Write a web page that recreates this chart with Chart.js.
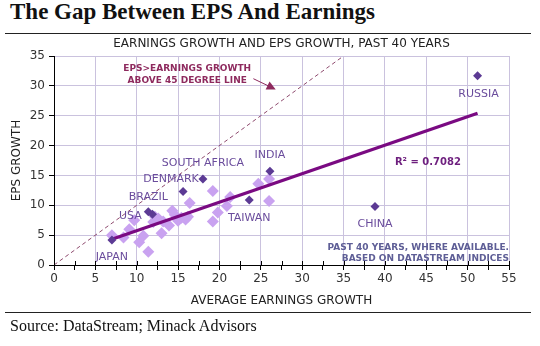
<!DOCTYPE html>
<html>
<head>
<meta charset="utf-8">
<script src="https://cdn.jsdelivr.net/npm/chart.js@4"></script>
<style>
  html, body { margin: 0; padding: 0; background: #fff; }
  #wrap { position: relative; width: 540px; height: 346px; overflow: hidden; }
  #title { position: absolute; left: 10px; top: -1px; font: bold 23px "Liberation Serif", serif; color: #111; white-space: nowrap; }
  .rule { position: absolute; left: 5px; width: 526px; height: 0; border-top: 1.5px solid #222; }
  #source { position: absolute; left: 10px; top: 317px; font: 16px "Liberation Serif", serif; color: #111; white-space: nowrap; }
  #chart { position: absolute; left: 0; top: 0; }
</style>
</head>
<body>
<div id="wrap">
  <div id="title">The Gap Between EPS And Earnings</div>
  <div class="rule" style="top:33px"></div>
  <canvas id="chart" width="540" height="346"></canvas>
  <div class="rule" style="top:312px"></div>
  <div id="source">Source: DataStream; Minack Advisors</div>
</div>
<script>
// markets without a label (average earnings growth vs EPS growth, %)
var otherEarn = [7.0, 8.4, 9.1, 9.7, 10.3, 10.8, 11.4, 12.0, 12.2, 12.6, 13.0, 13.2, 13.9, 14.3, 14.6, 15.0, 15.4, 15.9, 16.2, 16.4, 19.2, 19.2, 19.8, 20.9, 21.3, 24.7, 26.0, 26.0];
var otherEps  = [5.0, 4.6, 6.0, 7.5, 3.8, 4.9, 2.2, 7.2, 8.1, 7.8, 5.3, 7.3, 6.6, 9.1, 8.4, 7.4, 7.9, 7.6, 8.1, 10.4, 12.4, 7.3, 8.8, 9.9, 11.4, 13.6, 14.4, 10.7];

// labelled markets
var countries   = ['JAPAN', 'USA', 'BRAZIL', 'DENMARK', 'SOUTH AFRICA', 'INDIA', 'TAIWAN', 'CHINA', 'RUSSIA'];
var countryEarn = [7.0, 11.9, 11.4, 15.6, 18.0, 26.1, 23.6, 38.8, 51.2];
var countryEps  = [4.2, 8.5, 8.9, 12.3, 14.4, 15.7, 10.9, 9.8, 31.7];

// fitted trend line end points
var trendEarn = [7.0, 51.2];
var trendEps  = [4.3, 25.4];
var rSquared = '0.7082';

// 45 degree reference line
var diagEarn = [0, 35];
var diagEps  = [0, 35];

var xTicks = { min: 0, max: 55, step: 2.5 };
var yTicks = { min: 0, max: 35, step: 5 };

// label offsets from each country's marker, in pixels
var labelOffsets = [[0, 17], [-22, 2], [0, -15], [-12, -12], [0, -16], [0, -16], [0, 18], [0, 18], [1, 18]];

function pts(xs, ys) {
    return xs.map(function (x, i) { return { x: x, y: ys[i] }; });
}

var notesPlugin = {
    id: 'notes',
    afterDatasetsDraw: function (chart) {
        var ctx = chart.ctx;
        var xs = chart.scales.x, ys = chart.scales.y;
        ctx.save();
        ctx.textAlign = 'center';
        ctx.textBaseline = 'middle';

        // country labels
        ctx.fillStyle = '#6A4C9C';
        ctx.font = '11px "DejaVu Sans", sans-serif';
        countries.forEach(function (name, i) {
            var px = xs.getPixelForValue(countryEarn[i]) + labelOffsets[i][0];
            var py = ys.getPixelForValue(countryEps[i]) + labelOffsets[i][1];
            ctx.fillText(name, px, py);
        });

        // 45 degree callout
        ctx.fillStyle = '#8E2A5E';
        ctx.font = 'bold 9px "DejaVu Sans", sans-serif';
        ctx.fillText('EPS>EARNINGS GROWTH', xs.getPixelForValue(16.1), ys.getPixelForValue(32.8));
        ctx.fillText('ABOVE 45 DEGREE LINE', xs.getPixelForValue(16.1), ys.getPixelForValue(30.9));
        var ax0 = xs.getPixelForValue(24.1), ay0 = ys.getPixelForValue(31.2);
        var ax1 = xs.getPixelForValue(26.8), ay1 = ys.getPixelForValue(29.4);
        var ang = Math.atan2(ay1 - ay0, ax1 - ax0);
        ctx.strokeStyle = '#8E2A5E';
        ctx.lineWidth = 1;
        ctx.beginPath();
        ctx.moveTo(ax0, ay0);
        ctx.lineTo(ax1 - 6 * Math.cos(ang), ay1 - 6 * Math.sin(ang));
        ctx.stroke();
        ctx.beginPath();
        ctx.moveTo(ax1, ay1);
        ctx.lineTo(ax1 - 9 * Math.cos(ang) + 4.5 * Math.sin(ang), ay1 - 9 * Math.sin(ang) - 4.5 * Math.cos(ang));
        ctx.lineTo(ax1 - 9 * Math.cos(ang) - 4.5 * Math.sin(ang), ay1 - 9 * Math.sin(ang) + 4.5 * Math.cos(ang));
        ctx.closePath();
        ctx.fill();

        // fit statistic
        ctx.fillStyle = '#6E1F7E';
        ctx.font = 'bold 10px "DejaVu Sans", sans-serif';
        ctx.fillText('R\u00b2 = ' + rSquared, xs.getPixelForValue(45.2), ys.getPixelForValue(17.2));

        // coverage note
        ctx.fillStyle = '#5E5E96';
        ctx.font = 'bold 9px "DejaVu Sans", sans-serif';
        ctx.textAlign = 'right';
        ctx.fillText('PAST 40 YEARS, WHERE AVAILABLE.', xs.right, ys.getPixelForValue(2.9));
        ctx.fillText('BASED ON DATASTREAM INDICES', xs.right, ys.getPixelForValue(1.1));

        // x axis ticks cross the axis line
        ctx.strokeStyle = '#000';
        ctx.lineWidth = 1;
        ctx.beginPath();
        xs.ticks.forEach(function (t) {
            var px = Math.round(xs.getPixelForValue(t.value)) + 0.5;
            ctx.moveTo(px, ys.bottom - 4);
            ctx.lineTo(px, ys.bottom);
        });
        ctx.stroke();
        ctx.restore();
    }
};

new Chart(document.getElementById('chart'), {
    type: 'scatter',
    data: {
        datasets: [
            {
                label: 'Other markets',
                data: pts(otherEarn, otherEps),
                pointStyle: 'rectRot',
                pointRadius: 6,
                backgroundColor: '#C9A2F0',
                borderWidth: 0,
                order: 4
            },
            {
                type: 'line',
                label: '45 degree',
                data: pts(diagEarn, diagEps),
                borderColor: '#8E4A6E',
                borderWidth: 1,
                borderDash: [4, 3],
                pointRadius: 0,
                order: 3
            },
            {
                type: 'line',
                label: 'Trend',
                data: pts(trendEarn, trendEps),
                borderColor: '#7A0A82',
                borderWidth: 3.2,
                pointRadius: 0,
                order: 2
            },
            {
                label: 'Labelled markets',
                data: pts(countryEarn, countryEps),
                pointStyle: 'rectRot',
                pointRadius: 4.5,
                backgroundColor: '#5C3A94',
                borderWidth: 0,
                order: 1
            }
        ]
    },
    options: {
        responsive: false,
        animation: false,
        layout: { padding: { top: 56, right: 31, bottom: 34, left: 0 } },
        plugins: {
            legend: { display: false },
            tooltip: { enabled: false },
            title: { display: false },
            subtitle: { display: false }
        },
        scales: {
            x: {
                type: 'linear',
                min: xTicks.min,
                max: xTicks.max,
                afterFit: function (s) { s.height = 47; },
                ticks: {
                    stepSize: xTicks.step,
                    autoSkip: false,
                    maxRotation: 0,
                    padding: 2,
                    color: '#333',
                    font: { family: '"DejaVu Sans", sans-serif', size: 12 },
                    callback: function (v) { return v % 5 === 0 ? v : ''; }
                },
                grid: {
                    color: function (c) { return c.tick && c.tick.value % 5 === 0 ? '#CAC2DE' : 'rgba(0,0,0,0)'; },
                    tickColor: '#000',
                    tickLength: 5
                },
                border: { color: '#000', width: 1 },
                title: {
                    display: true,
                    text: 'AVERAGE EARNINGS GROWTH',
                    color: '#222',
                    padding: { top: 0 },
                    font: { family: '"DejaVu Sans", sans-serif', size: 12 }
                }
            },
            y: {
                min: yTicks.min,
                max: yTicks.max,
                afterFit: function (s) { s.width = 54; },
                ticks: {
                    stepSize: yTicks.step,
                    padding: 4,
                    color: '#333',
                    font: { family: '"DejaVu Sans", sans-serif', size: 12 }
                },
                grid: {
                    color: '#CAC2DE',
                    tickColor: '#000',
                    tickLength: 5
                },
                border: { color: '#000', width: 1 },
                title: {
                    display: true,
                    text: 'EPS GROWTH',
                    color: '#222',
                    padding: { top: 10, bottom: 0 },
                    font: { family: '"DejaVu Sans", sans-serif', size: 12 }
                }
            }
        }
    },
    plugins: [notesPlugin, {
        id: 'heading',
        afterDraw: function (chart) {
            var ctx = chart.ctx;
            ctx.save();
            ctx.fillStyle = '#222';
            ctx.font = '12px "DejaVu Sans", sans-serif';
            ctx.textAlign = 'center';
            ctx.textBaseline = 'middle';
            ctx.fillText('EARNINGS GROWTH AND EPS GROWTH, PAST 40 YEARS', (chart.chartArea.left + chart.chartArea.right) / 2, 44);
            ctx.restore();
        }
    }]
});
</script>
</body>
</html>
